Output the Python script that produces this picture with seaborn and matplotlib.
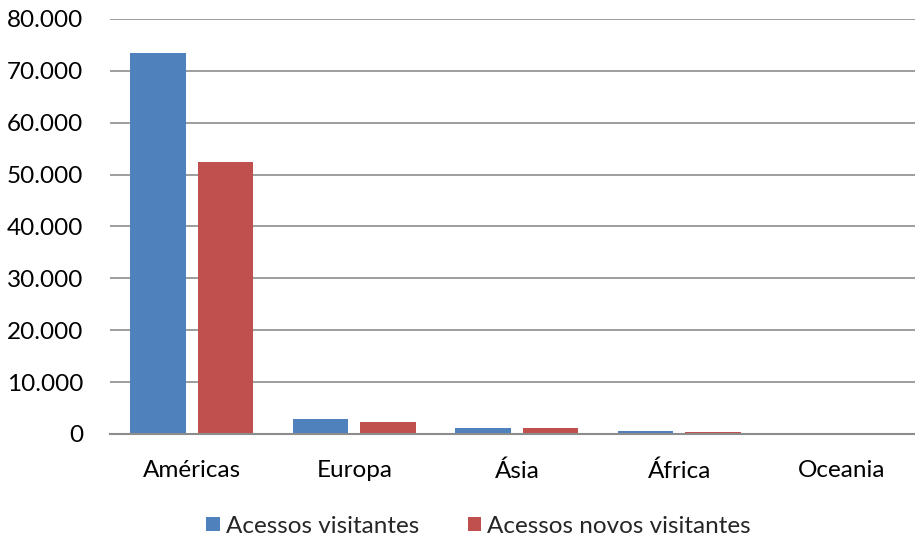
import pandas as pd
import numpy as np
import matplotlib
matplotlib.use('Agg')
import matplotlib.pyplot as plt
import seaborn as sns
from matplotlib.ticker import FuncFormatter

regions = ['Américas', 'Europa', 'Ásia', 'África', 'Oceania']
visitantes = [73400, 2900, 1150, 520, 25]
novos_visitantes = [52400, 2200, 1050, 450, 20]
series_names = ['Acessos visitantes', 'Acessos novos visitantes']
colors = ['#4F81BD', '#C0504D']

df = pd.DataFrame({
    'Região': regions * 2,
    'Série': [series_names[0]] * len(regions) + [series_names[1]] * len(regions),
    'Acessos': visitantes + novos_visitantes,
})

sns.set_style('white')
plt.rcParams['font.family'] = ['Lato', 'DejaVu Sans']

fig = plt.figure(figsize=(9.15, 5.41), dpi=100)
ax = fig.add_axes([0.12, 0.198, 0.88, 0.767])

sns.barplot(data=df, x='Região', y='Acessos', hue='Série', palette=colors,
            width=0.83, gap=0.18, ax=ax, saturation=1, linewidth=0,
            legend=True)

ax.set_ylim(0, 80000)
ax.set_xlim(-0.505, 4.45)
ax.set_yticks(np.arange(0, 80001, 10000))
ax.yaxis.set_major_formatter(FuncFormatter(lambda v, p: f'{int(v):,}'.replace(',', '.')))
ax.yaxis.grid(True, color='#8c8c8c', linewidth=1.2)
ax.set_axisbelow(True)
ax.set_xlabel('')
ax.set_ylabel('')
for s in ['top', 'right', 'left']:
    ax.spines[s].set_visible(False)
ax.spines['bottom'].set_color('#8c8c8c')
ax.spines['bottom'].set_linewidth(1.5)
ax.tick_params(axis='both', length=0, labelsize=17.5, colors='black')
ax.tick_params(axis='x', pad=19)
ax.tick_params(axis='y', pad=19)

handles, labels = ax.get_legend_handles_labels()
ax.legend(handles, labels, loc='center', bbox_to_anchor=(0.458, -0.222), ncol=2,
          frameon=False, fontsize=17.5, handlelength=0.55, handleheight=0.55,
          handletextpad=0.25, columnspacing=2.0)

fig.savefig('out.png', dpi=100)
